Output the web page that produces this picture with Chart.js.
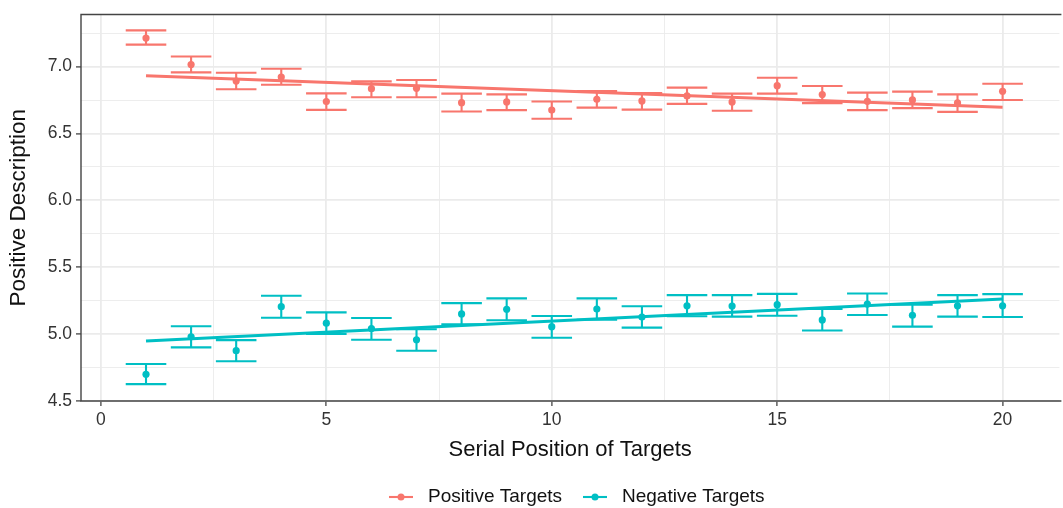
<!DOCTYPE html>
<html>
<head>
<meta charset="utf-8">
<script src="https://cdn.jsdelivr.net/npm/chart.js@4/dist/chart.umd.min.js"></script>
<style>
  html, body { margin: 0; padding: 0; background: #fff; }
  #chart { display: block; }
</style>
</head>
<body>
<canvas id="chart" width="1063" height="508"></canvas>
<script>
// Serial position data

const positions = [1, 2, 3, 4, 5, 6, 7, 8, 9, 10, 11, 12, 13, 14, 15, 16, 17, 18, 19, 20];

const posMean = [7.214, 7.016, 6.892, 6.922, 6.739, 6.835, 6.838, 6.731, 6.736, 6.675,
                 6.756, 6.744, 6.781, 6.736, 6.858, 6.791, 6.741, 6.751, 6.729, 6.816];
const posHi   = [7.271, 7.076, 6.954, 6.984, 6.800, 6.890, 6.900, 6.798, 6.793, 6.739,
                 6.818, 6.803, 6.843, 6.798, 6.917, 6.855, 6.806, 6.813, 6.793, 6.872];
const posLo   = [7.165, 6.957, 6.831, 6.865, 6.677, 6.771, 6.771, 6.665, 6.675, 6.610,
                 6.694, 6.679, 6.722, 6.670, 6.798, 6.727, 6.675, 6.690, 6.662, 6.751];

const negMean = [4.700, 4.980, 4.876, 5.205, 5.082, 5.042, 4.958, 5.151, 5.186, 5.056,
                 5.188, 5.128, 5.212, 5.210, 5.220, 5.106, 5.225, 5.141, 5.212, 5.212];
const negHi   = [4.777, 5.059, 4.955, 5.287, 5.163, 5.121, 5.037, 5.232, 5.267, 5.136,
                 5.267, 5.208, 5.292, 5.292, 5.301, 5.188, 5.304, 5.220, 5.292, 5.299];
const negLo   = [4.626, 4.901, 4.797, 5.123, 5.002, 4.958, 4.876, 5.074, 5.104, 4.973,
                 5.108, 5.049, 5.134, 5.131, 5.138, 5.027, 5.143, 5.056, 5.131, 5.128];

// linear fit end points
const fitX   = [1, 20];
const posFit = [6.932, 6.697];
const negFit = [4.948, 5.262];

const seriesNames = ["Positive Targets", "Negative Targets"];

const RED = "#F8766D";
const TEAL = "#00BFC4";
const FONT = "'Liberation Sans', Arial, Helvetica, sans-serif";
const ERR_HALF = 0.45;


function toXY(xs, ys) {
    return xs.map((x, i) => ({ x: x, y: ys[i] }));
}


// error bars drawn under the points, through the chart scales
const errorBars = {
    id: "errorBars",
    beforeDatasetsDraw(chart) {
        const ctx = chart.ctx;
        const xs = chart.scales.x;
        const ys = chart.scales.y;
        const groups = [
            { hi: posHi, lo: posLo, color: RED },
            { hi: negHi, lo: negLo, color: TEAL }
        ];
        ctx.save();
        ctx.lineWidth = 2.1;
        groups.forEach(g => {
            ctx.strokeStyle = g.color;
            positions.forEach((p, i) => {
                const x = xs.getPixelForValue(p);
                const x0 = xs.getPixelForValue(p - ERR_HALF);
                const x1 = xs.getPixelForValue(p + ERR_HALF);
                const yh = ys.getPixelForValue(g.hi[i]);
                const yl = ys.getPixelForValue(g.lo[i]);
                ctx.beginPath();
                ctx.moveTo(x0, yh); ctx.lineTo(x1, yh);
                ctx.moveTo(x0, yl); ctx.lineTo(x1, yl);
                ctx.moveTo(x, yh); ctx.lineTo(x, yl);
                ctx.stroke();
            });
        });
        ctx.restore();
    }
};


// panel border (left, top, bottom) and the bottom legend
const panelAndLegend = {
    id: "panelAndLegend",
    afterDraw(chart) {
        const ctx = chart.ctx;
        const a = chart.chartArea;
        ctx.save();
        ctx.strokeStyle = "#444";
        ctx.lineWidth = 1.4;
        ctx.beginPath();
        ctx.moveTo(a.right + 2, a.top);
        ctx.lineTo(a.left, a.top);
        ctx.lineTo(a.left, a.bottom);
        ctx.lineTo(a.right + 2, a.bottom);
        ctx.stroke();

        const items = [
            { x: 389, color: RED, text: seriesNames[0] },
            { x: 583, color: TEAL, text: seriesNames[1] }
        ];
        const y = 497;
        ctx.font = "19px " + FONT;
        ctx.textBaseline = "middle";
        ctx.textAlign = "left";
        items.forEach(it => {
            ctx.strokeStyle = it.color;
            ctx.fillStyle = it.color;
            ctx.lineWidth = 2.1;
            ctx.beginPath();
            ctx.moveTo(it.x, y);
            ctx.lineTo(it.x + 24, y);
            ctx.stroke();
            ctx.beginPath();
            ctx.arc(it.x + 12, y, 3.5, 0, Math.PI * 2);
            ctx.fill();
            ctx.fillStyle = "#111";
            ctx.fillText(it.text, it.x + 39, y);
        });
        ctx.restore();
    }
};


function isMajorX(v) { return Math.abs(v % 5) < 1e-6; }
function isMajorY(v) { return Math.abs(v * 2 - Math.round(v * 2)) < 1e-6; }

const ctx = document.getElementById("chart").getContext("2d");

new Chart(ctx, {
    type: "scatter",
    data: {
        datasets: [
            {
                label: seriesNames[0],
                data: toXY(positions, posMean),
                backgroundColor: RED,
                borderWidth: 0,
                pointRadius: 3.6,
                pointHoverRadius: 3.6
            },
            {
                label: seriesNames[1],
                data: toXY(positions, negMean),
                backgroundColor: TEAL,
                borderWidth: 0,
                pointRadius: 3.6,
                pointHoverRadius: 3.6
            },
            {
                type: "line",
                label: "fit positive",
                data: toXY(fitX, posFit),
                borderColor: RED,
                borderWidth: 3,
                pointRadius: 0,
                fill: false
            },
            {
                type: "line",
                label: "fit negative",
                data: toXY(fitX, negFit),
                borderColor: TEAL,
                borderWidth: 3,
                pointRadius: 0,
                fill: false
            }
        ]
    },
    options: {
        responsive: false,
        animation: false,
        events: [],
        layout: {
            padding: { top: 12, right: 0, bottom: 0, left: 0 }
        },
        plugins: {
            legend: { display: false },
            tooltip: { enabled: false }
        },
        scales: {
            x: {
                type: "linear",
                min: -0.442,
                max: 21.26,
                afterFit(scale) { scale.height = 107; },
                border: { display: false },
                grid: {
                    color: c => "#ebebeb",
                    lineWidth: c => isMajorX(c.tick.value) ? 1.8 : 0.9,
                    tickColor: c => isMajorX(c.tick.value) ? "#444" : "rgba(0,0,0,0)",
                    tickLength: 5,
                    tickWidth: 1.3
                },
                ticks: {
                    stepSize: 2.5,
                    includeBounds: false,
                    autoSkip: false,
                    maxRotation: 0,
                    padding: 4,
                    color: "#333",
                    font: { family: FONT, size: 17.5 },
                    callback: v => isMajorX(v) ? String(v) : ""
                },
                title: {
                    display: true,
                    text: "Serial Position of Targets",
                    color: "#111",
                    font: { family: FONT, size: 22 },
                    padding: { top: 0, bottom: 45 }
                }
            },
            y: {
                type: "linear",
                min: 4.5,
                max: 7.39,
                afterFit(scale) { scale.width = 81; },
                border: { display: false },
                grid: {
                    color: c => "#ebebeb",
                    lineWidth: c => isMajorY(c.tick.value) ? 1.8 : 0.9,
                    tickColor: c => isMajorY(c.tick.value) ? "#444" : "rgba(0,0,0,0)",
                    tickLength: 5,
                    tickWidth: 1.3
                },
                ticks: {
                    stepSize: 0.25,
                    includeBounds: false,
                    autoSkip: false,
                    padding: 4,
                    color: "#333",
                    font: { family: FONT, size: 17.5 },
                    callback: v => isMajorY(v) ? v.toFixed(1) : ""
                },
                title: {
                    display: true,
                    text: "Positive Description",
                    color: "#111",
                    font: { family: FONT, size: 22.5 },
                    padding: { top: 5, bottom: 0 }
                }
            }
        }
    },
    plugins: [errorBars, panelAndLegend]
});
</script>
</body>
</html>
